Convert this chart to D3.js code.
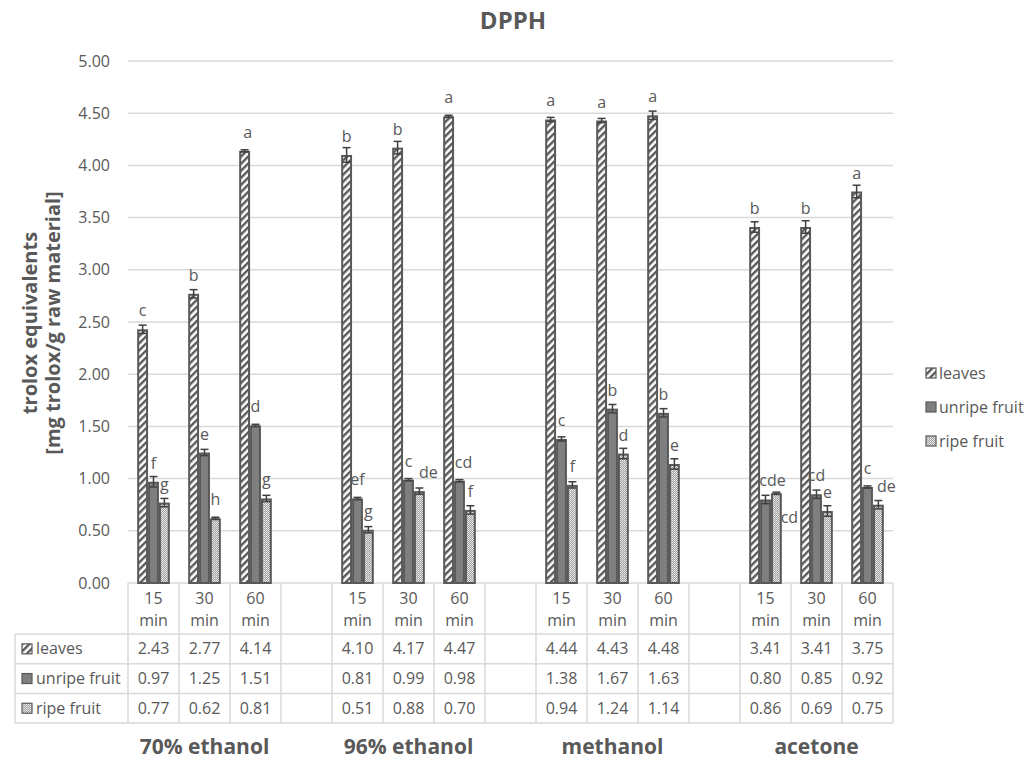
<!DOCTYPE html>
<html>
<head>
<meta charset="utf-8">
<script src="https://cdn.jsdelivr.net/npm/d3@7"></script>
<style>
  body { margin: 0; background: #fff; }
  svg text { font-family: "Open Sans", "Noto Sans", sans-serif; }
</style>
</head>
<body>
<div id="chart-div"></div>
<script>
// データ ------------------------------------------------------------------
const solvents = ['70% ethanol', '96% ethanol', 'methanol', 'acetone'];
const times = ['15 min', '30 min', '60 min'];
const seriesNames = ['leaves', 'unripe fruit', 'ripe fruit'];
// 値は solvent ごとに 15/30/60 min の順
const leaves      = [2.43, 2.77, 4.14, 4.10, 4.17, 4.47, 4.44, 4.43, 4.48, 3.41, 3.41, 3.75];
const unripeFruit = [0.97, 1.25, 1.51, 0.81, 0.99, 0.98, 1.38, 1.67, 1.63, 0.80, 0.85, 0.92];
const ripeFruit   = [0.77, 0.62, 0.81, 0.51, 0.88, 0.70, 0.94, 1.24, 1.14, 0.86, 0.69, 0.75];
const leavesErr   = [0.04, 0.04, 0.01, 0.07, 0.06, 0.01, 0.02, 0.02, 0.04, 0.05, 0.06, 0.06];
const unripeErr   = [0.05, 0.03, 0.01, 0.01, 0.01, 0.01, 0.02, 0.04, 0.04, 0.04, 0.04, 0.01];
const ripeErr     = [0.04, 0.01, 0.03, 0.03, 0.03, 0.04, 0.03, 0.05, 0.05, 0.01, 0.05, 0.04];
const leavesLetters = ['c', 'b', 'a', 'b', 'b', 'a', 'a', 'a', 'a', 'b', 'b', 'a'];
const unripeLetters = ['f', 'e', 'd', 'ef', 'c', 'cd', 'c', 'b', 'b', 'cde', 'cd', 'c'];
const ripeLetters   = ['g', 'h', 'g', 'g', 'de', 'f', 'f', 'd', 'e', 'cd', 'e', 'de'];
const yTicks = [0, 0.5, 1, 1.5, 2, 2.5, 3, 3.5, 4, 4.5, 5];

const values = [leaves, unripeFruit, ripeFruit];
const errs = [leavesErr, unripeErr, ripeErr];
const letters = [leavesLetters, unripeLetters, ripeLetters];

// レイアウト --------------------------------------------------------------
const width = 1026, height = 760;
const plotLeft = 128, plotRight = 893, plotTop = 61, plotBottom = 583;
const textColor = '#595959', lineColor = '#d9d9d9';
// 重なり回避のためのラベル位置調整 (series-index: [dx, dy])
const labelNudge = { '0-2': [3, 0], '1-5': [4, 0], '1-9': [7, 0], '2-4': [9, 0], '2-9': [13, 43], '2-11': [8, 0] };

// 15 列 (各 solvent 3 列 + 空き列)
const columns = [];
solvents.forEach((s, si) => {
  times.forEach((t, ti) => columns.push({ key: s + '|' + t, solvent: si, time: ti, idx: si * 3 + ti }));
  if (si < solvents.length - 1) columns.push({ key: 'gap' + si, gap: true });
});

const x0 = d3.scaleBand().domain(columns.map(d => d.key)).range([plotLeft, plotRight]).padding(0);
const bw = x0.bandwidth();
const x1 = d3.scaleBand().domain(seriesNames).range([bw * 0.18, bw * 0.82]).padding(0);
const y = d3.scaleLinear().domain([0, 5]).range([plotBottom, plotTop]);

const svg = d3.select('#chart-div').append('svg')
  .attr('width', width).attr('height', height);

// パターン ----------------------------------------------------------------
const defs = svg.append('defs');
const pLeaves = defs.append('pattern').attr('id', 'p-leaves')
  .attr('patternUnits', 'userSpaceOnUse').attr('width', 5).attr('height', 5)
  .attr('patternTransform', 'rotate(45)');
pLeaves.append('rect').attr('width', 5).attr('height', 5).attr('fill', '#fff');
pLeaves.append('rect').attr('width', 2.4).attr('height', 5).attr('fill', '#595959');

const pRipe = defs.append('pattern').attr('id', 'p-ripe')
  .attr('patternUnits', 'userSpaceOnUse').attr('width', 2).attr('height', 2);
pRipe.append('rect').attr('width', 2).attr('height', 2).attr('fill', '#a0a0a0');
pRipe.append('rect').attr('width', 1).attr('height', 1).attr('fill', '#f0f0f0');
pRipe.append('rect').attr('x', 1).attr('y', 1).attr('width', 1).attr('height', 1).attr('fill', '#dcdcdc');

const fills = ['url(#p-leaves)', '#7f7f7f', 'url(#p-ripe)'];

// タイトル ----------------------------------------------------------------
svg.append('text').attr('x', 513).attr('y', 29).attr('text-anchor', 'middle')
  .attr('font-size', '24px').attr('font-weight', 'bold').attr('fill', textColor).text('DPPH');

// グリッド・Y軸 ------------------------------------------------------------
svg.append('g').selectAll('line').data(yTicks).enter().append('line')
  .attr('x1', plotLeft).attr('x2', plotRight)
  .attr('y1', d => y(d)).attr('y2', d => y(d))
  .attr('stroke', lineColor).attr('stroke-width', 1.5);

svg.append('g').selectAll('text').data(yTicks).enter().append('text')
  .attr('x', 110).attr('y', d => y(d)).attr('dy', '0.35em')
  .attr('text-anchor', 'end').attr('font-size', '16px').attr('fill', textColor)
  .text(d => d3.format('.2f')(d));

const yTitle = svg.append('text')
  .attr('transform', 'translate(37,' + 323 + ') rotate(-90)')
  .attr('text-anchor', 'middle').attr('font-size', '20px').attr('font-weight', 'bold').attr('fill', textColor);
yTitle.append('tspan').attr('x', 0).attr('dy', 0).text('trolox equivalents');
yTitle.append('tspan').attr('x', 0).attr('dy', 23).text('[mg trolox/g raw material]');

// バー ---------------------------------------------------------------------
const dataCols = columns.filter(d => !d.gap);
const barG = svg.append('g');
seriesNames.forEach((name, si) => {
  const g = barG.append('g');
  const bx = d => x0(d.key) + x1(name);
  const w = x1.bandwidth();
  g.selectAll('rect').data(dataCols).enter().append('rect')
    .attr('x', d => bx(d) + 1)
    .attr('y', d => y(values[si][d.idx]) + 1)
    .attr('width', w - 2)
    .attr('height', d => plotBottom - y(values[si][d.idx]) - 1)
    .attr('fill', fills[si])
    .attr('stroke', '#595959').attr('stroke-width', 2);
  // エラーバー
  const eg = g.append('g').attr('stroke', '#404040').attr('stroke-width', 1.5);
  dataCols.forEach(d => {
    const cx = bx(d) + w / 2;
    const v = values[si][d.idx], e = errs[si][d.idx];
    eg.append('line').attr('x1', cx).attr('x2', cx).attr('y1', y(v - e)).attr('y2', y(v + e));
    eg.append('line').attr('x1', cx - 4).attr('x2', cx + 4).attr('y1', y(v + e)).attr('y2', y(v + e));
    eg.append('line').attr('x1', cx - 4).attr('x2', cx + 4).attr('y1', y(v - e)).attr('y2', y(v - e));
  });
  // 文字ラベル
  const nudge = d => labelNudge[si + '-' + d.idx] || [0, 0];
  g.selectAll('text.lbl').data(dataCols).enter().append('text')
    .attr('class', 'lbl')
    .attr('x', d => bx(d) + w / 2 + nudge(d)[0])
    .attr('y', d => y(values[si][d.idx]) - 13 + nudge(d)[1])
    .attr('text-anchor', 'middle').attr('font-size', '16px').attr('fill', textColor)
    .text(d => letters[si][d.idx]);
});

// データテーブル -----------------------------------------------------------
const tableLeft = 15;
const headerBottom = 634;
const rowH = 29.7;
const rowTops = seriesNames.map((d, i) => headerBottom + i * rowH);
const tableBottom = headerBottom + seriesNames.length * rowH;
const tg = svg.append('g').attr('stroke', lineColor).attr('stroke-width', 1.5);

// 縦線
columns.concat([null]).forEach((c, i) => {
  const xx = plotLeft + i * bw;
  tg.append('line').attr('x1', xx).attr('x2', xx).attr('y1', plotBottom).attr('y2', tableBottom);
});
tg.append('line').attr('x1', tableLeft).attr('x2', tableLeft).attr('y1', headerBottom).attr('y2', tableBottom);
// 横線
rowTops.concat([tableBottom]).forEach(yy => {
  tg.append('line').attr('x1', tableLeft).attr('x2', plotRight).attr('y1', yy).attr('y2', yy);
});

// ヘッダ
const hg = svg.append('g');
dataCols.forEach(d => {
  const cx = x0(d.key) + bw / 2;
  const parts = times[d.time].split(' ');
  const t = hg.append('text').attr('text-anchor', 'middle').attr('font-size', '16px').attr('fill', textColor);
  t.append('tspan').attr('x', cx).attr('y', 604).text(parts[0]);
  t.append('tspan').attr('x', cx).attr('y', 626).text(parts[1]);
});

// 行
seriesNames.forEach((name, si) => {
  const ry = rowTops[si] + rowH / 2;
  svg.append('rect').attr('x', 22).attr('y', ry - 5).attr('width', 10).attr('height', 10)
    .attr('fill', fills[si]).attr('stroke', '#595959').attr('stroke-width', 1.2);
  svg.append('text').attr('x', 36).attr('y', ry).attr('dy', '0.35em')
    .attr('font-size', '16px').attr('fill', textColor).text(name);
  dataCols.forEach(d => {
    svg.append('text').attr('x', x0(d.key) + bw / 2).attr('y', ry).attr('dy', '0.35em')
      .attr('text-anchor', 'middle').attr('font-size', '16px').attr('fill', textColor)
      .text(d3.format('.2f')(values[si][d.idx]));
  });
});

// グループ名
solvents.forEach((s, si) => {
  const mid = columns.find(c => !c.gap && c.solvent === si && c.time === 1);
  svg.append('text').attr('x', x0(mid.key) + bw / 2).attr('y', 754)
    .attr('text-anchor', 'middle').attr('font-size', '21px').attr('font-weight', 'bold')
    .attr('fill', textColor).text(s);
});

// 凡例 --------------------------------------------------------------------
const lg = svg.append('g').attr('transform', 'translate(926,373)');
seriesNames.forEach((name, si) => {
  lg.append('rect').attr('x', 0).attr('y', si * 34 - 5).attr('width', 10).attr('height', 10)
    .attr('fill', fills[si]).attr('stroke', '#595959').attr('stroke-width', 1.2);
  lg.append('text').attr('x', 13).attr('y', si * 34).attr('dy', '0.35em')
    .attr('font-size', '16px').attr('fill', textColor).text(name);
});
</script>
</body>
</html>
